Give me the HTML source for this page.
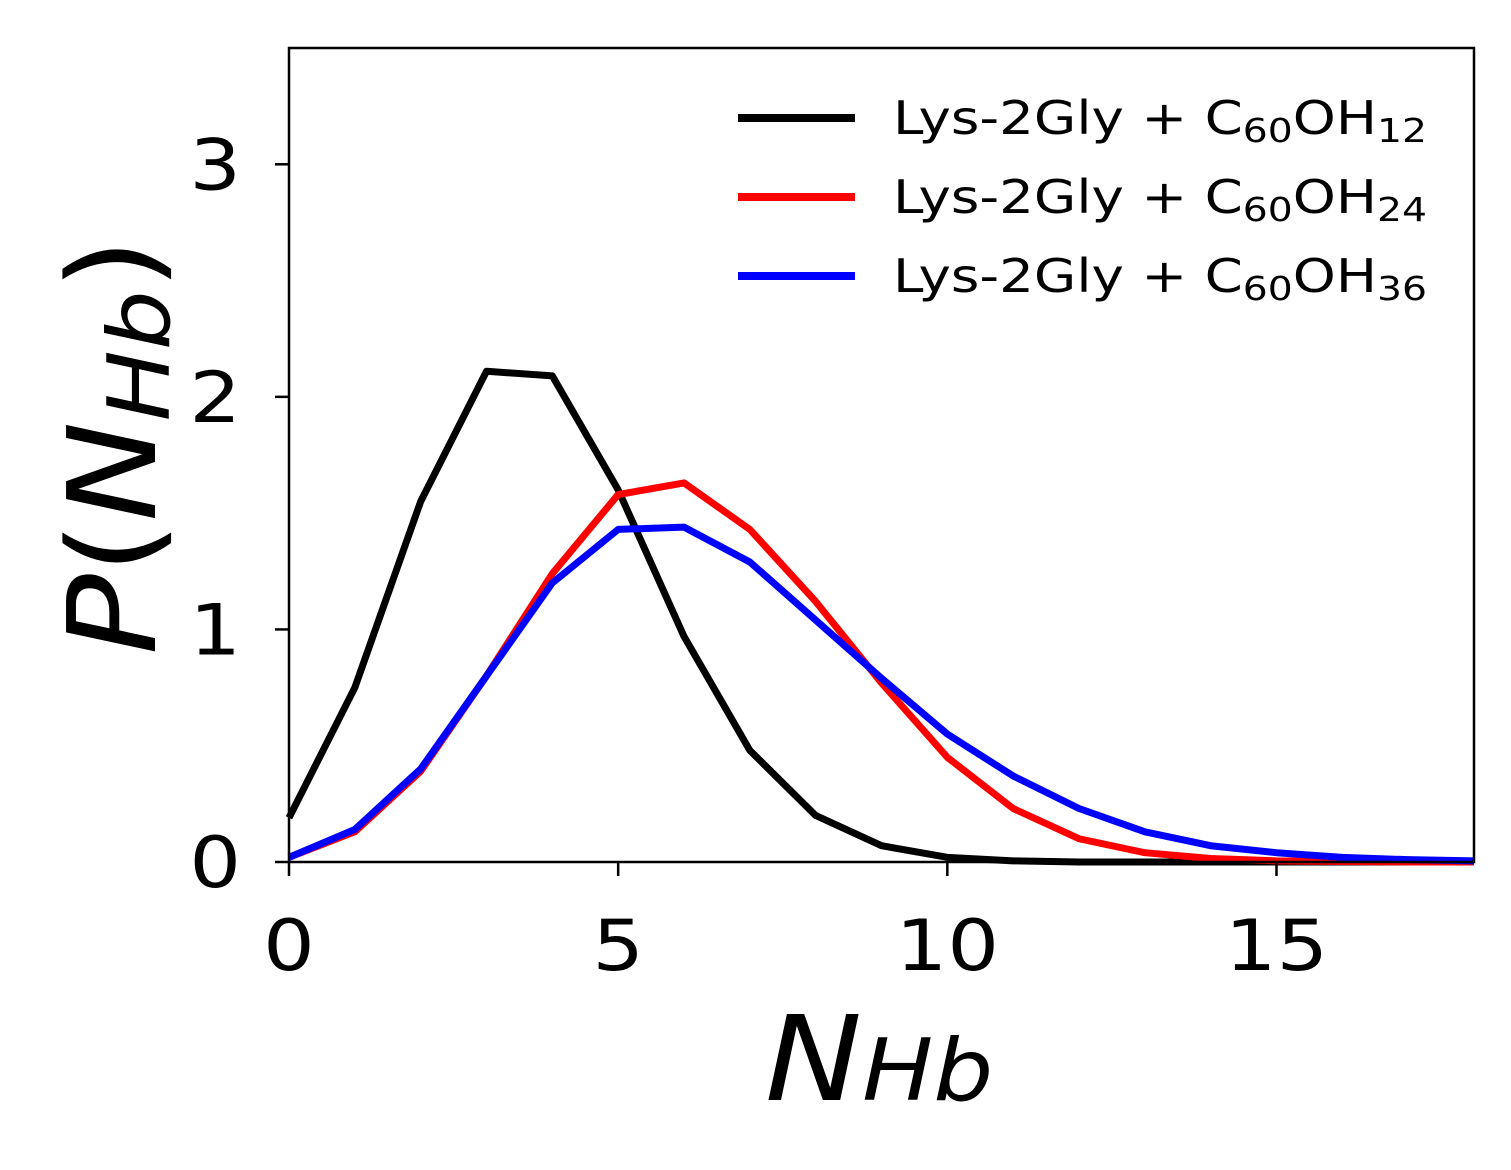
<!DOCTYPE html>
<html><head><meta charset="utf-8"><style>
html,body{margin:0;padding:0;background:#fff;}
svg{display:block;font-family:"DejaVu Sans","Liberation Sans",sans-serif;}
</style></head><body>
<svg id="chart" width="1511" height="1170" viewBox="0 0 1511 1170">
<g id="plot"></g>
</svg>
<script>
const xs = [0,1,2,3,4,5,6,7,8,9,10,11,12,13,14,15,16,17,18];
const seriesNames = ["Lys-2Gly + C60OH12","Lys-2Gly + C60OH24","Lys-2Gly + C60OH36"];
const blackVals = [0.19,0.75,1.55,2.11,2.09,1.6,0.97,0.48,0.2,0.07,0.02,0.005,0,0,0,0,0,0,0];
const redVals = [0.02,0.13,0.39,0.8,1.24,1.58,1.63,1.43,1.12,0.77,0.45,0.23,0.1,0.04,0.015,0.005,0.002,0,0];
const blueVals = [0.02,0.14,0.4,0.8,1.2,1.43,1.44,1.29,1.04,0.79,0.55,0.37,0.23,0.13,0.07,0.04,0.02,0.01,0.005];
const xTicks = [0,5,10,15];
const yTicks = [0,1,2,3];

const L=289,R=1474,T=48,B=862,xMax=18,yMax=3.5;
const sx=v=>L+(R-L)*v/xMax;
const sy=v=>B-(B-T)*v/yMax;
const NS="http://www.w3.org/2000/svg";
const g=document.getElementById('plot');
function mk(tag,attrs,parent){const e=document.createElementNS(NS,tag);for(const k in attrs)e.setAttribute(k,attrs[k]);(parent||g).appendChild(e);return e;}

const colors=["#000000","#ff0000","#0000ff"];
const all=[blackVals,redVals,blueVals];
all.forEach((vals,i)=>{
  const p=mk('polyline',{points:vals.map((v,j)=>sx(xs[j])+','+sy(v)).join(' '),fill:'none',stroke:colors[i],'stroke-width':7,'stroke-linejoin':'round'});
  
  
});

const frame=mk('rect',{x:L,y:T,width:R-L,height:B-T,fill:'none',stroke:'#000','stroke-width':2.5});



const SX=1.16;
xTicks.forEach(t=>{
  const x=sx(t);
  const tk=mk('line',{x1:x,x2:x,y1:B,y2:B+14,stroke:'#000','stroke-width':2.5});
  
  
  const tx=mk('text',{x:0,y:0,'text-anchor':'middle','font-size':70,transform:'translate('+x+','+(B+108)+') scale('+SX+',1)'});
  tx.textContent=t;
  
  
});
yTicks.forEach(t=>{
  const y=sy(t);
  const tk=mk('line',{x1:L-14,x2:L,y1:y,y2:y,stroke:'#000','stroke-width':2.5});
  
  
  const tx=mk('text',{x:0,y:0,'text-anchor':'end','font-size':70,transform:'translate('+(L-48)+','+(y+25)+') scale('+SX+',1)'});
  tx.textContent=t;
  
  
});

// legend
const subs=["12","24","36"];
[118,197,276].forEach((y,i)=>{
  const ln=mk('line',{x1:738,x2:855,y1:y,y2:y,stroke:colors[i],'stroke-width':8});
  
  
  const tx=mk('text',{x:0,y:0,'font-size':46,transform:'translate(893,'+(y+16)+') scale(1.19,1)'});
  tx.innerHTML='Lys-2Gly + C<tspan font-size="33" dy="8">60</tspan><tspan dy="-8">OH</tspan><tspan font-size="33" dy="8">'+subs[i]+'</tspan>';
  
  
});

// axis titles
const xt=mk('text',{x:0,y:0,'font-size':118,'font-style':'italic',transform:'translate(765,1100) scale(1.1,1)'});
xt.innerHTML='N<tspan font-size="86">Hb</tspan>';


const yt=mk('text',{x:0,y:0,'font-size':122,transform:'translate(155,655) rotate(-90) scale(1.1,1)'});
yt.innerHTML='<tspan font-style="italic">P</tspan>(<tspan font-style="italic">N</tspan><tspan font-style="italic" font-size="86" dy="14">Hb</tspan><tspan dy="-14">)</tspan>';


</script>
</body></html>
